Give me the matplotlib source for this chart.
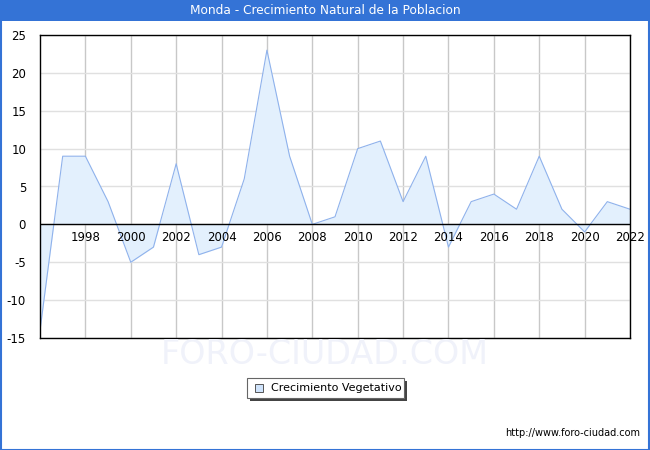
import matplotlib.pyplot as plt
from matplotlib.patches import Rectangle

# Data
years = list(range(1996, 2023))
values = [-14, 9, 9, 3, -5, -3, 8, -4, -3, 6, 23, 9, 0, 1, 10, 11, 3, 9, -3, 3, 4, 2, 9, 2, -1, 3, 2]
tick_years = list(range(1998, 2023, 2))
y_ticks = [-15, -10, -5, 0, 5, 10, 15, 20, 25]

title = "Monda - Crecimiento Natural de la Poblacion"
series_name = "Crecimiento Vegetativo"
url = "http://www.foro-ciudad.com"

blue = "#3473d6"
line_color = "#8fb2ec"
fill_color = "#e3f0fd"

plt.rcParams['font.family'] = ['DejaVu Sans']
plt.rcParams['axes.unicode_minus'] = False
fig = plt.figure(figsize=(6.5, 4.5), dpi=100)
W, H = 650, 450

# Title bar and border
fig.patches.append(Rectangle((0, 1 - 21 / H), 1, 21 / H, transform=fig.transFigure,
                             facecolor=blue, edgecolor='none', zorder=0))
fig.patches.append(Rectangle((0.5 / W, 0.5 / H), 1 - 1.5 / W, 1 - 1.5 / H, transform=fig.transFigure,
                             facecolor='none', edgecolor=blue, linewidth=1.5, zorder=5))
fig.text(0.5, 1 - 11 / H, title, color='white', fontsize=8.7, ha='center', va='center')

ax = fig.add_axes((40 / W, 1 - 338 / H, 590 / W, 303 / H))
ax.set_xlim(1996, 2022)
ax.set_ylim(-15, 25)

ax.fill_between(years, values, 0, color=fill_color, linewidth=0, zorder=1)
ax.plot(years, values, color=line_color, linewidth=0.8, zorder=2)
ax.axhline(0, color='black', linewidth=1, zorder=3)

ax.set_yticks(y_ticks)
ax.set_xticks(tick_years)
ax.yaxis.grid(True, color='#e0e0e0', linewidth=1)
ax.xaxis.grid(True, color='#c8c8c8', linewidth=1)
ax.set_axisbelow(True)
ax.tick_params(length=0, labelsize=8.5)
ax.tick_params(axis='y', pad=10)
ax.set_xticklabels([])
for y in tick_years:
    ax.text(y, -0.9, str(y), ha='center', va='top', fontsize=8.5, zorder=4)
for s in ax.spines.values():
    s.set_linewidth(1)

# Watermark
fig.text(0.5, 1 - 354 / H, "FORO-CIUDAD.COM", color='#f0f2fa', fontsize=24,
         ha='center', va='center', zorder=0)

# Legend box with shadow
lx, ly, lw, lh = 247, 378, 157, 20
fig.patches.append(Rectangle(((lx + 3) / W, 1 - (ly + lh + 3) / H), lw / W, lh / H,
                             transform=fig.transFigure, facecolor='#444444', edgecolor='none'))
fig.patches.append(Rectangle((lx / W, 1 - (ly + lh) / H), lw / W, lh / H,
                             transform=fig.transFigure, facecolor='white', edgecolor='#666666',
                             linewidth=0.8))
fig.patches.append(Rectangle(((lx + 8) / W, 1 - (ly + 14) / H), 8 / W, 8 / H,
                             transform=fig.transFigure, facecolor='#cfe3fb', edgecolor='#555555',
                             linewidth=0.7))
fig.text((lx + 24) / W, 1 - (ly + 10) / H, series_name, fontsize=8, ha='left', va='center')

fig.text(1 - 10 / W, 1 - 433 / H, url, fontsize=7, ha='right', va='center')

fig.savefig("out.png", dpi=100)
